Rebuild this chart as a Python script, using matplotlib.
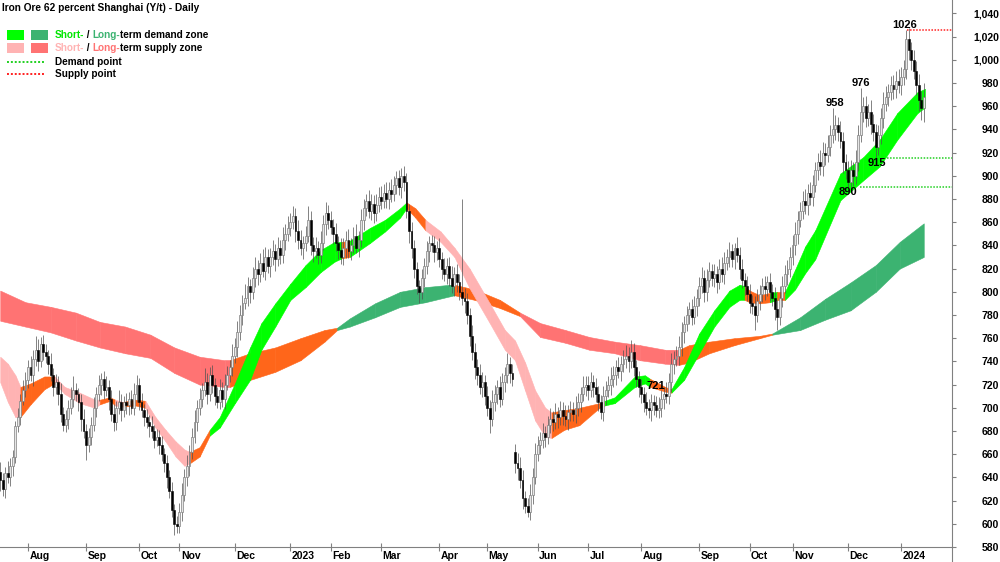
import matplotlib
matplotlib.use('Agg')
import matplotlib.pyplot as plt
import matplotlib.transforms as mtransforms
from matplotlib.patches import Rectangle
from matplotlib.lines import Line2D
import numpy as np
import pandas as pd

plt.rcParams['font.family'] = ['Liberation Sans', 'DejaVu Sans']

# daily closes, one list per month
close_months = [
    [638, 630, 644, 640, 650, 658, 684, 692, 706, 715, 724],
    [735, 728, 742, 750, 740, 755, 748, 745, 738, 728, 718, 722, 712, 695, 685, 690, 700, 708, 715, 712, 705, 690, 680],
    [668, 675, 685, 700, 712, 720, 725, 715, 718, 708, 695, 688, 700, 705, 698, 705, 702, 708, 700, 712, 720],
    [705, 698, 692, 688, 684, 680, 672, 675, 668, 660, 652, 640, 628, 612, 600, 598],
    [610, 625, 640, 650, 662, 675, 688, 700, 708, 715, 722, 712, 728, 720, 710, 705, 715, 708, 720, 728, 735, 745],
    [752, 765, 780, 790, 795, 805, 800, 812, 820, 815, 825, 818, 830, 822, 830, 835, 828, 838, 832, 845, 850, 855],
    [860, 865, 852, 845, 838, 842, 848, 862, 840, 835, 838, 832, 842, 858, 868, 862],
    [856, 850, 842, 836, 830, 838, 845, 835, 840, 848, 838, 845, 862, 872, 878, 870, 876, 868, 875, 882],
    [878, 885, 880, 888, 884, 892, 898, 890, 900, 895, 870, 852, 838, 820, 805, 800, 812, 822, 835, 842, 840, 834, 838],
    [828, 820, 815, 822, 812, 805, 815, 808, 800, 795, 792, 780, 762, 748, 735, 728, 718, 722, 710],
    [700, 690, 705, 712, 718, 708, 722, 728, 738, 730, 725, 652, 648, 638, 622, 615, 610, 625, 640, 660],
    [668, 672, 678, 675, 685, 690, 688, 695, 692, 698, 693, 690, 696, 698, 695, 700, 705, 712, 718, 720],
    [715, 722, 718, 712, 705, 696, 710, 715, 720, 725, 728, 735, 732, 738, 742, 745, 740, 748, 735, 725, 718],
    [712, 705, 700, 698, 705, 702, 698, 700, 708, 712, 710, 722, 738, 742, 745, 752, 765, 772, 780, 785, 778, 788, 795],
    [805, 812, 800, 810, 818, 812, 815, 808, 820, 815, 825, 830, 835, 828, 838, 832, 820, 810, 805, 798],
    [790, 788, 780, 792, 798, 805, 802, 808, 800, 795, 785, 778, 795, 805, 815, 820, 830],
    [840, 850, 862, 870, 878, 875, 885, 882, 892, 905, 912, 908, 920, 918, 925, 935, 940, 944, 938, 930, 912, 905],
    [895, 905, 900, 912, 935, 955, 960, 950, 955, 945, 938, 925, 935, 950, 962, 968, 972, 978, 975, 982, 978],
    [985, 992, 1018, 1008, 1000, 990, 978, 965, 958, 968],
]
# wick above the body / below the body
wick_up_months = [
    [8, 6, 5, 10, 7, 6, 5, 8, 6, 9, 7],
    [6, 10, 8, 12, 9, 6, 8, 7, 5, 9, 6, 7, 5, 9, 6, 8, 7, 10, 12, 6, 5, 7, 9],
    [6, 8, 7, 9, 6, 8, 5, 7, 9, 6, 7, 8, 6, 10, 7, 5, 8, 6, 7, 9, 8],
    [6, 8, 5, 7, 6, 9, 5, 7, 6, 8, 5, 7, 6, 8, 5, 7],
    [8, 10, 7, 9, 6, 8, 10, 7, 9, 6, 12, 8, 7, 9, 6, 8, 10, 7, 9, 8, 6, 10],
    [8, 10, 9, 7, 12, 8, 6, 9, 10, 7, 8, 12, 9, 7, 8, 10, 6, 9, 7, 11, 8, 10],
    [8, 9, 7, 10, 8, 6, 9, 12, 8, 7, 9, 6, 10, 8, 9, 7],
    [8, 7, 9, 6, 10, 8, 7, 9, 6, 8, 10, 7, 9, 8, 6, 10, 8, 7, 9, 8],
    [9, 8, 10, 7, 9, 8, 6, 7, 7, 8, 7, 6, 8, 7, 6, 5, 8, 7, 9, 6, 7, 8, 6],
    [8, 6, 9, 7, 8, 10, 6, 9, 7, 80, 8, 7, 6, 9, 8, 7, 10, 9, 6],
    [9, 7, 10, 8, 6, 9, 8, 7, 9, 6, 8, 7, 9, 10, 8, 6, 7, 9, 8, 10],
    [8, 7, 9, 6, 8, 10, 7, 9, 6, 8, 7, 9, 6, 8, 7, 10, 8, 6, 9, 7],
    [7, 9, 6, 8, 7, 6, 9, 8, 7, 10, 8, 6, 9, 7, 8, 9, 7, 10, 8, 6, 7],
    [7, 6, 9, 8, 7, 6, 8, 9, 7, 6, 10, 8, 9, 7, 8, 10, 9, 7, 8, 6, 9, 8, 7],
    [8, 9, 7, 10, 8, 6, 9, 7, 8, 10, 9, 7, 8, 6, 4, 9, 7, 8, 6, 9],
    [9, 7, 8, 10, 8, 7, 9, 6, 8, 7, 9, 8, 10, 9, 8, 7, 9],
    [9, 10, 8, 7, 9, 11, 8, 10, 9, 7, 8, 10, 9, 8, 10, 9, 18, 8, 7, 9, 8, 7],
    [8, 9, 7, 10, 9, 21, 8, 9, 7, 10, 8, 7, 9, 8, 10, 9, 7, 8, 9, 8, 10],
    [9, 8, 8, 9, 7, 8, 9, 10, 8, 12],
]
wick_dn_months = [
    [10, 6, 8, 5, 7, 9, 6, 5, 7, 4, 6],
    [7, 5, 9, 6, 8, 5, 7, 6, 9, 5, 8, 6, 10, 7, 5, 6, 8, 5, 7, 6, 8, 10, 6],
    [13, 6, 7, 5, 8, 6, 9, 7, 5, 10, 6, 8, 7, 5, 9, 6, 7, 8, 5, 6, 7],
    [7, 6, 8, 5, 9, 6, 7, 5, 8, 6, 7, 9, 6, 6, 10, 6],
    [6, 8, 5, 7, 9, 6, 5, 8, 6, 7, 5, 9, 6, 7, 8, 5, 6, 7, 9, 5, 6, 8],
    [6, 8, 7, 9, 5, 7, 10, 6, 8, 9, 7, 5, 8, 6, 9, 7, 10, 6, 8, 7, 9, 6],
    [7, 6, 9, 8, 6, 10, 7, 5, 8, 9, 6, 8, 7, 6, 9, 8],
    [6, 9, 7, 8, 6, 7, 9, 6, 8, 7, 5, 8, 6, 9, 7, 6, 8, 9, 7, 6],
    [7, 6, 8, 9, 7, 6, 8, 7, 9, 8, 6, 10, 9, 8, 7, 10, 6, 8, 7, 9, 6, 8, 7],
    [7, 9, 6, 8, 7, 6, 9, 8, 7, 6, 10, 8, 9, 7, 10, 8, 6, 9, 8],
    [7, 12, 6, 8, 9, 7, 6, 8, 7, 9, 6, 8, 10, 7, 9, 6, 4, 7, 8, 6],
    [6, 8, 7, 9, 6, 7, 8, 6, 9, 7, 8, 6, 9, 7, 6, 8, 7, 9, 6, 8],
    [8, 6, 9, 7, 8, 6, 7, 8, 6, 9, 7, 8, 6, 9, 7, 8, 9, 6, 8, 7, 9],
    [8, 9, 6, 7, 9, 8, 6, 7, 8, 9, 6, 7, 8, 9, 6, 8, 7, 9, 6, 8, 7, 6, 9],
    [7, 6, 9, 8, 6, 7, 8, 9, 6, 7, 8, 6, 9, 7, 8, 6, 9, 7, 8, 6],
    [8, 7, 13, 6, 8, 7, 9, 6, 8, 7, 9, 11, 7, 8, 6, 9, 7],
    [7, 8, 9, 6, 7, 8, 9, 7, 8, 6, 9, 7, 8, 9, 6, 8, 7, 9, 8, 6, 10, 8],
    [5, 8, 9, 7, 8, 6, 9, 8, 7, 9, 8, 10, 7, 8, 9, 6, 8, 7, 9, 8, 7],
    [8, 7, 9, 8, 9, 7, 8, 9, 10, 12],
]
first_open = 645
open_gaps = {204: 662}  # bar index -> opening price after a gap

holidays = ['2022-09-12', '2022-10-03', '2022-10-04', '2022-10-05', '2022-10-06', '2022-10-07',
            '2023-01-02', '2023-01-23', '2023-01-24', '2023-01-25', '2023-01-26', '2023-01-27',
            '2023-04-05', '2023-05-01', '2023-05-02', '2023-05-03', '2023-06-22', '2023-06-23',
            '2023-09-29', '2023-10-02', '2023-10-03', '2023-10-04', '2023-10-05', '2023-10-06',
            '2024-01-01']

# long-term zone edges (bar index, upper, lower, state D/S/N)
lt_x = [0, 10, 20, 30, 39.5, 49.5, 59.5, 69, 79, 89, 91, 99, 109, 119, 128.5,
        133.5, 138.5, 148.5, 158.5, 168.5, 178, 180, 188, 198, 206, 214, 224, 233.5,
        243.5, 253.5, 263.5, 269, 273, 281, 291, 301, 306, 317, 327, 337, 347, 356.5, 366]
lt_top = [801, 791, 787, 782, 774, 770, 763, 752, 744, 741, 741, 747, 752, 760, 767,
          769, 777, 790, 800, 804, 806, 806, 802, 793, 782, 773, 767, 761,
          757, 754, 750, 750, 754, 757, 760, 762, 764, 778, 794, 808, 823, 843, 859]
lt_bot = [775, 770, 765, 758, 752, 747, 743, 730, 720, 718, 718, 724, 731, 741, 757,
          767, 770, 778, 787, 791, 796, 797, 793, 786, 779, 761, 756, 750,
          747, 741, 738, 737, 739, 747, 754, 760, 763, 767, 776, 784, 800, 820, 830]
lt_state = 'SSSSSSSSSS' + 'NNNNN' + 'DDDDDD' + 'NNN' + 'SSSSSSS' + 'NNNNN' + 'DDDDDDD'

# short-term zone edges
st_x = [0, 3, 6, 8, 12, 17.5, 21.5, 25.5, 31.5, 37.5,
        39.5, 43.5, 45.5, 48.5, 53.5, 57.5, 61.5, 65.5, 69.5, 73,
        75, 79, 83, 87, 93, 99, 103.5, 109, 115, 121,
        127, 132.5, 135.5, 138.5, 146.5, 152.5, 158.5, 161, 164.5, 168.5,
        174.5, 180, 186, 194, 200, 204, 208, 212, 216, 218.5,
        223.5, 229.5, 237.5, 239.5, 243.5, 251.5, 255.5, 257.5, 263.5, 266,
        271, 277, 283, 289, 293, 295, 297, 301, 305, 308,
        311, 315, 319, 323, 333, 342, 348.5, 355.5, 363.5, 366.5]
st_top = [744, 738, 728, 718, 721, 727, 727, 718, 713, 707,
          707, 709, 707, 705, 707, 706, 692, 681, 671, 664,
          662, 666, 681, 692, 721, 752, 773, 790, 807, 823,
          836, 843, 843, 844, 855, 862, 872, 877, 872, 862,
          852, 838, 820, 790, 767, 758, 739, 715, 700, 696,
          698, 700, 704, 706, 709, 727, 728, 725, 718, 716,
          735, 764, 784, 801, 806, 805, 801, 797, 799, 800,
          800, 819, 839, 853, 902, 916, 931, 954, 972, 975]
st_bot = [722, 705, 692, 692, 703, 716, 721, 712, 704, 700,
          703, 706, 702, 701, 702, 700, 683, 671, 658, 650,
          652, 658, 676, 683, 704, 724, 750, 770, 793, 804,
          817, 826, 829, 830, 842, 852, 864, 872, 864, 853,
          843, 830, 803, 773, 750, 741, 715, 689, 675, 674,
          681, 685, 700, 702, 704, 718, 721, 718, 714, 713,
          724, 747, 770, 787, 793, 793, 791, 790, 791, 793,
          793, 802, 816, 828, 879, 896, 908, 931, 954, 959]
st_state = ('SSS' + 'NNN' + 'SSSS' + 'NN' + 'S' + 'NN' + 'SSSSS' + 'NN' + 'D' * 10 + 'N' + 'DDDD'
            + 'NN' + 'S' * 10 + 'NNNN' + 'DDDD' + 'NN' + 'D' * 6 + 'NNN' + 'D' + 'N' + 'D' * 10)

# labelled turning points
point_labels = [(358.6, 1026, '1026', 'bottom'), (341.2, 976, '976', 'bottom'),
                (330.9, 958, '958', 'bottom'), (336, 890, '890', 'top'),
                (347.5, 915, '915', 'top'), (259.9, 723, '721', 'top')]
supply_points = [(1026, 359.4)]
demand_points = [(915, 351.5), (890, 340.8)]

closes = np.array(sum(close_months, []), dtype=float)
wick_up = np.array(sum(wick_up_months, []), dtype=float)
wick_dn = np.array(sum(wick_dn_months, []), dtype=float)
n = len(closes)
opens = np.concatenate([[first_open], closes[:-1]])
for k, v in open_gaps.items():
    opens[k] = v
highs = np.maximum(opens, closes) + wick_up
lows = np.minimum(opens, closes) - wick_dn

days = pd.bdate_range('2022-07-15', '2024-03-01')
days = days[~days.isin(pd.to_datetime(holidays))][:n]
month_pos = [i for i in range(1, n) if days[i].month != days[i - 1].month]
month_lab = [str(days[i].year) if days[i].month == 1 else days[i].strftime('%b') for i in month_pos]

W, H = 1000, 562
fig = plt.figure(figsize=(W / 100, H / 100), dpi=100)
ax = fig.add_axes([0, 15 / H, 952 / W, 547 / H])

zone_cols_st = {'D': '#00ff00', 'S': '#ffb3b3', 'N': '#ff661a'}
zone_cols_lt = {'D': '#3cb371', 'S': '#ff7373', 'N': '#ff661a'}


def draw_zone(xs, a, b, states, cols, z):
    for i in range(len(xs) - 1):
        c = cols[states[i]]
        ax.fill_between([xs[i], xs[i + 1]], [a[i], a[i + 1]], [b[i], b[i + 1]],
                        color=c, lw=0.4, edgecolor=c, zorder=z)


draw_zone(lt_x, lt_top, lt_bot, lt_state, zone_cols_lt, 1)
draw_zone(st_x, st_top, st_bot, st_state, zone_cols_st, 2)

# candles
x = np.arange(n)
up = closes >= opens
body_lo = np.minimum(opens, closes)
body_h = np.maximum(np.abs(closes - opens), 0.8)
ax.vlines(x, lows, highs, color='#505050', lw=0.5, zorder=3)
ax.bar(x[up], body_h[up], bottom=body_lo[up], width=0.75, color='#e6e6e6',
       edgecolor='#808080', lw=0.5, zorder=4)
ax.bar(x[~up], body_h[~up], bottom=body_lo[~up], width=0.75, color='black',
       edgecolor='black', lw=0.4, zorder=4)

x_right = 377.2
for price, start in supply_points:
    ax.hlines(price, start, x_right, colors='#ff2020', lw=1.1, linestyles=(0, (1, 1)), zorder=5)
for price, start in demand_points:
    ax.hlines(price, start, x_right, colors='#20d020', lw=1.1, linestyles=(0, (1, 1)), zorder=5)
for px, py, s, va in point_labels:
    ax.text(px, py, s, ha='center', va=va, fontsize=8, fontweight='bold', zorder=6)

ax.set_xlim(-0.1, x_right)
ax.set_ylim(580, 1051.5)
for s in ['top', 'left']:
    ax.spines[s].set_visible(False)
for s in ['right', 'bottom']:
    ax.spines[s].set_color('#808080')
    ax.spines[s].set_linewidth(0.8)

ax.yaxis.tick_right()
yt = list(range(580, 1041, 20))
ax.set_yticks(yt)
ax.set_yticklabels([f'{v:,}' for v in yt])
ax.tick_params(axis='y', direction='out', length=3, width=0.8, color='#808080',
               pad=31, labelsize=7.5)
for lab in ax.get_yticklabels():
    lab.set_horizontalalignment('right')
    lab.set_fontweight('bold')

ax.set_xticks(month_pos)
ax.set_xticklabels(month_lab)
ax.tick_params(axis='x', direction='inout', length=6, width=0.8, color='#808080',
               pad=0, labelsize=7.5)
off = mtransforms.ScaledTranslation(1 / 72, 0, fig.dpi_scale_trans)
for lab in ax.get_xticklabels():
    lab.set_horizontalalignment('left')
    lab.set_fontweight('bold')
    lab.set_transform(lab.get_transform() + off)

fig.add_artist(Line2D([952 / W, 952 / W], [0, 15 / H], transform=fig.transFigure,
                      color='#808080', lw=0.8))

# title and legend
fig.text(2 / W, 1 - 8 / H, 'Iron Ore 62 percent Shanghai (Y/t) - Daily', fontsize=7.3,
         fontweight='bold', va='center', ha='left')


def fpx(xp, yp):
    return xp / W, 1 - yp / H


for (xp, yp, c) in [(7, 30, '#00ff00'), (31, 30, '#3cb371'), (7, 43, '#ffb3b3'), (31, 43, '#ff7373')]:
    fig.add_artist(Rectangle(fpx(xp, yp + 10), 17 / W, 10 / H, transform=fig.transFigure,
                             color=c, lw=0))
fig.add_artist(Line2D([7 / W, 45 / W], [1 - 62 / H] * 2, transform=fig.transFigure,
                      color='#20d020', lw=1.4, linestyle=(0, (1, 1))))
fig.add_artist(Line2D([7 / W, 45 / W], [1 - 74 / H] * 2, transform=fig.transFigure,
                      color='#ff2020', lw=1.4, linestyle=(0, (1, 1))))

renderer = fig.canvas.get_renderer()


def text_run(xp, yp, pieces):
    for s, c in pieces:
        t = fig.text(*fpx(xp, yp), s, color=c, fontsize=7.2, fontweight='bold',
                     va='center', ha='left')
        xp += t.get_window_extent(renderer=renderer).width


text_run(55, 35, [('Short-', '#00e600'), (' / ', 'black'), ('Long-', '#3cb371'),
                  ('term demand zone', 'black')])
text_run(55, 48, [('Short-', '#ffb3b3'), (' / ', 'black'), ('Long-', '#ff7373'),
                  ('term supply zone', 'black')])
text_run(55, 62, [('Demand point', 'black')])
text_run(55, 74, [('Supply point', 'black')])

fig.savefig('out.png', dpi=100)
